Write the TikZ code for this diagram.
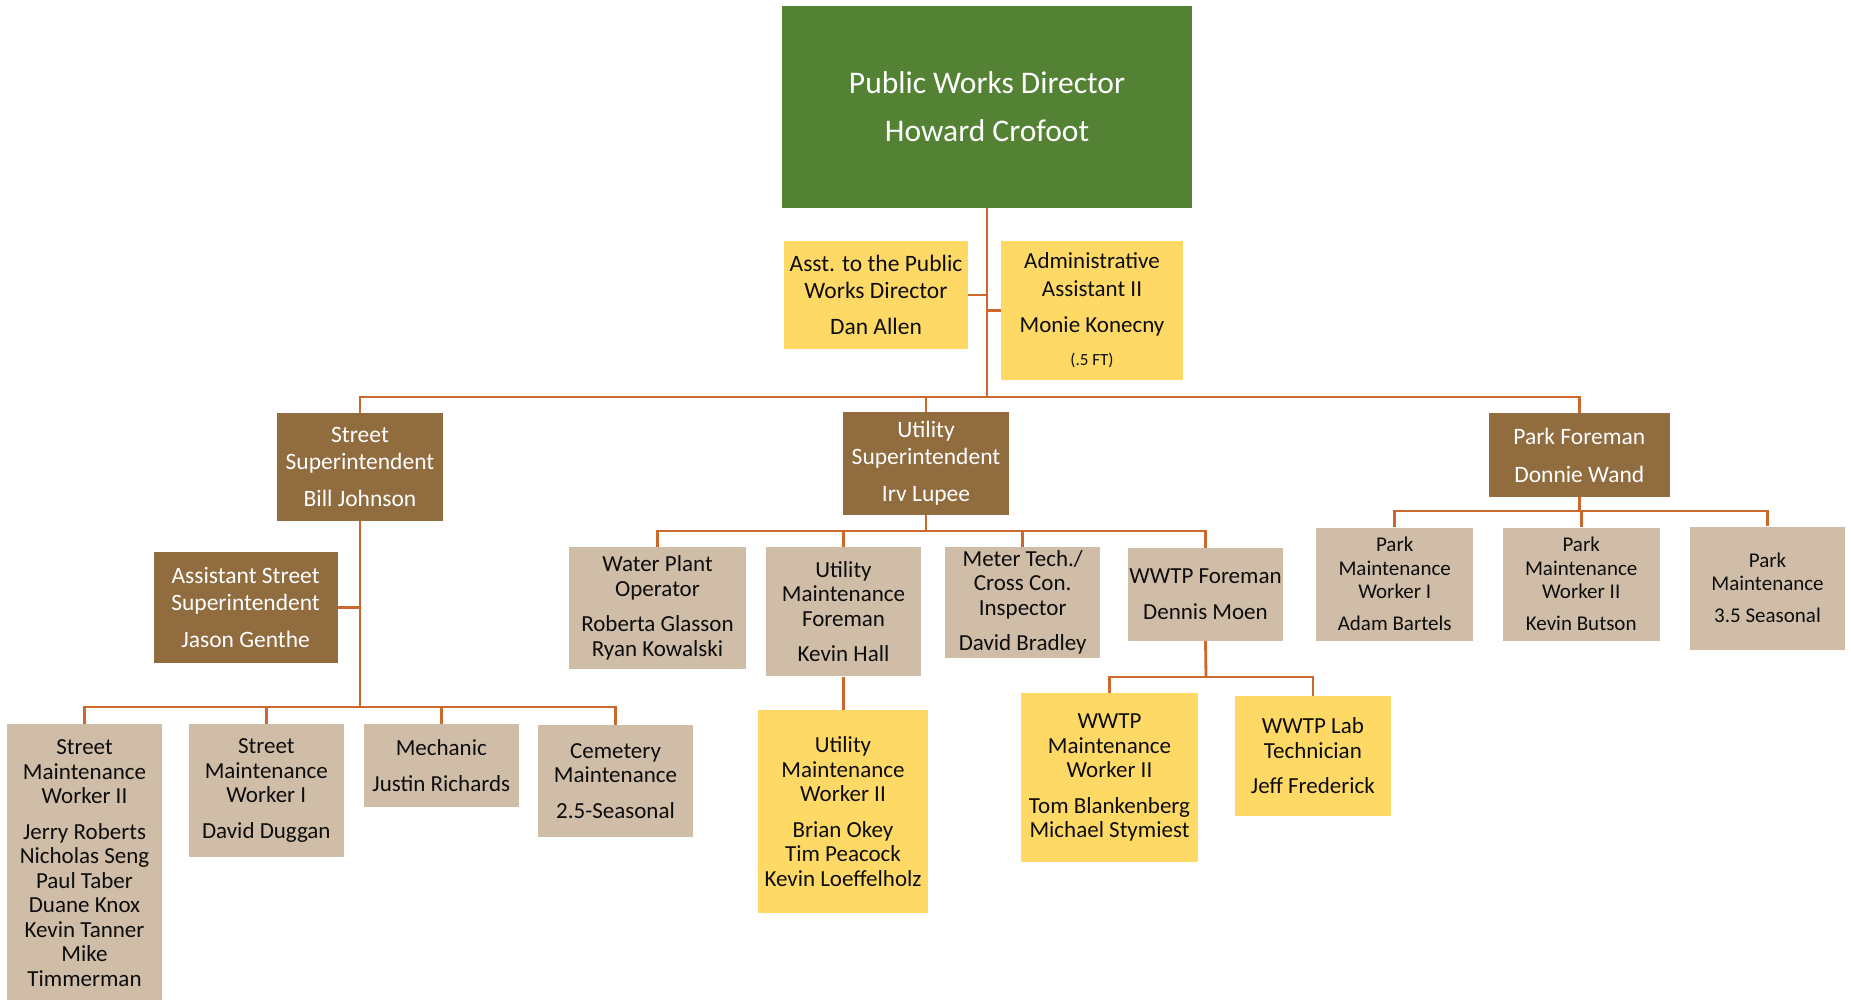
\documentclass[tikz,border=0pt]{standalone}
\usepackage{fontspec}
\setmainfont{Carlito}
\usepackage{tikz}
\usepackage{color}

\definecolor{dirgreen}{RGB}{84,130,53}
\definecolor{supbrown}{RGB}{144,108,63}
\definecolor{stafftan}{RGB}{208,189,167}
\definecolor{crewyellow}{RGB}{255,217,102}
\definecolor{linkorange}{RGB}{204,104,44}
\definecolor{inkblack}{RGB}{13,13,13}

\begin{document}
\begin{tikzpicture}[x=1pt,y=-1pt]
        \tikzstyle{every node}+=[inner sep=1pt, align=center]
        \tikzstyle{dirbox}=[fill=dirgreen, text=white, font=\fontsize{31.5}{33}\selectfont]
        \tikzstyle{supbox}=[fill=supbrown, text=white, font=\fontsize{23.5}{27}\selectfont]
        \tikzstyle{tanbox}=[fill=stafftan, text=inkblack, font=\fontsize{23}{24.5}\selectfont]
        \tikzstyle{yelbox}=[fill=crewyellow, text=inkblack, font=\fontsize{23}{24.5}\selectfont]
        \tikzstyle{parkbox}=[tanbox, font=\fontsize{21}{23.2}\selectfont]
        \tikzstyle{link}=[draw=linkorange, line width=2.8pt]
        \useasboundingbox (0,0) rectangle (1851,1000);
        % top of the chart
        \node [dirbox, minimum width=410pt, minimum height=202pt] (dir) at (987,107) {Public Works Director\\[15pt]Howard Crofoot};
        \node [yelbox, font=\fontsize{23.5}{26.7}\selectfont, minimum width=184pt, minimum height=108pt] (asst) at (876,295) {Asst. to the Public\\Works Director\\[10pt]Dan Allen};
        \node [yelbox, font=\fontsize{23}{27.3}\selectfont, minimum width=182pt, minimum height=139pt] (admin) at (1092,310.5) {Administrative\\Assistant II\\[9pt]Monie Konecny\\[6pt]{\fontsize{17}{20}\selectfont(.5 FT)}};
        % superintendents
        \node [supbox, minimum width=166pt, minimum height=108pt] (ssup) at (360,467) {Street\\Superintendent\\[10pt]Bill Johnson};
        \node [supbox, minimum width=166pt, minimum height=103pt] (usup) at (926,463.5) {Utility\\Superintendent\\[10pt]Irv Lupee};
        \node [supbox, minimum width=181pt, minimum height=84pt] (park) at (1579.3,455) {Park Foreman\\[11pt]Donnie Wand};
        \node [supbox, minimum width=184pt, minimum height=111pt] (asss) at (245.6,607.5) {Assistant Street\\Superintendent\\[10pt]Jason Genthe};
        % street crew
        \node [tanbox, minimum width=155pt, minimum height=278pt] (smw2) at (84.5,863) {Street\\Maintenance\\Worker II\\[11pt]Jerry Roberts\\Nicholas Seng\\Paul Taber\\Duane Knox\\Kevin Tanner\\Mike\\Timmerman};
        \node [tanbox, minimum width=154.5pt, minimum height=133.3pt] (smw1) at (266.3,790.4) {Street\\Maintenance\\Worker I\\[11pt]David Duggan};
        \node [tanbox, minimum width=155.4pt, minimum height=83.6pt] (mech) at (441.3,765.5) {Mechanic\\[11pt]Justin Richards};
        \node [tanbox, minimum width=155pt, minimum height=112pt] (cem) at (615.5,781) {Cemetery\\Maintenance\\[11pt]2.5-Seasonal};
        % utility crew
        \node [tanbox, minimum width=177pt, minimum height=121.7pt] (wpo) at (657.5,607.9) {Water Plant\\Operator\\[11pt]Roberta Glasson\\Ryan Kowalski};
        \node [tanbox, minimum width=155pt, minimum height=129.3pt] (umf) at (843.5,611.7) {Utility\\Maintenance\\Foreman\\[11pt]Kevin Hall};
        \node [tanbox, minimum width=155.3pt, minimum height=110.7pt] (meter) at (1022.7,602.4) {Meter Tech./\\Cross Con.\\Inspector\\[11pt]David Bradley};
        \node [tanbox, minimum width=155.6pt, minimum height=93pt] (wwtpf) at (1205.5,594.2) {WWTP Foreman\\[11pt]Dennis Moen};
        \node [yelbox, minimum width=170pt, minimum height=203pt] (umw2) at (843,811.5) {Utility\\Maintenance\\Worker II\\[11pt]Brian Okey\\Tim Peacock\\Kevin Loeffelholz};
        \node [yelbox, minimum width=177pt, minimum height=168.7pt] (wmw2) at (1109.5,777.7) {WWTP\\Maintenance\\Worker II\\[11pt]Tom Blankenberg\\Michael Stymiest};
        \node [yelbox, minimum width=156.3pt, minimum height=120pt] (lab) at (1312.9,755.7) {WWTP Lab\\Technician\\[11pt]Jeff Frederick};
        % park crew
        \node [parkbox, minimum width=156.6pt, minimum height=113pt] (pmw1) at (1394.7,584) {Park\\Maintenance\\Worker I\\[9pt]Adam Bartels};
        \node [parkbox, minimum width=156.6pt, minimum height=113pt] (pmw2) at (1581.2,584) {Park\\Maintenance\\Worker II\\[9pt]Kevin Butson};
        \node [parkbox, minimum width=155.5pt, minimum height=123pt] (pms) at (1767.5,588) {Park\\Maintenance\\[9pt]3.5 Seasonal};
        % bus points
        \coordinate (mainbus) at (987,397);
        \coordinate (sbus) at (360,707);
        \coordinate (ubus) at (926,531);
        \coordinate (wbus) at (1206,677);
        \coordinate (pbus) at (1579.3,511);
        % connectors
        \draw [link] (dir.south) -- (mainbus);
        \draw [link] (asst.east) -- (asst.east -| dir.south);
        \draw [link] (admin.west) -- (admin.west -| dir.south);
        \draw [link] (ssup.north) |- (mainbus) -| (park.north);
        \draw [link] (usup.north) -- (usup.north |- mainbus);
        \draw [link] (ssup.south) -- (sbus);
        \draw [link] (asss.east) -- (asss.east -| ssup.south);
        \draw [link] (sbus) -| (smw2.north);
        \draw [link] (sbus) -| (smw1.north);
        \draw [link] (sbus) -| (mech.north);
        \draw [link] (sbus) -| (cem.north);
        \draw [link] (usup.south) -- (ubus);
        \draw [link] (ubus) -| (wpo.north);
        \draw [link] (ubus) -| (umf.north);
        \draw [link] (ubus) -| (meter.north);
        \draw [link] (ubus) -| (wwtpf.north);
        \draw [link] (umf.south) -- (umf.south |- umw2.north);
        \draw [link] (wwtpf.south) -- (wbus);
        \draw [link] (wbus) -| (wmw2.north);
        \draw [link] (wbus) -| (lab.north);
        \draw [link] (park.south) -- (pbus);
        \draw [link] (pbus) -| (pmw1.north);
        \draw [link] (pbus) -| (pmw2.north);
        \draw [link] (pbus) -| (pms.north);
\end{tikzpicture}
\end{document}
